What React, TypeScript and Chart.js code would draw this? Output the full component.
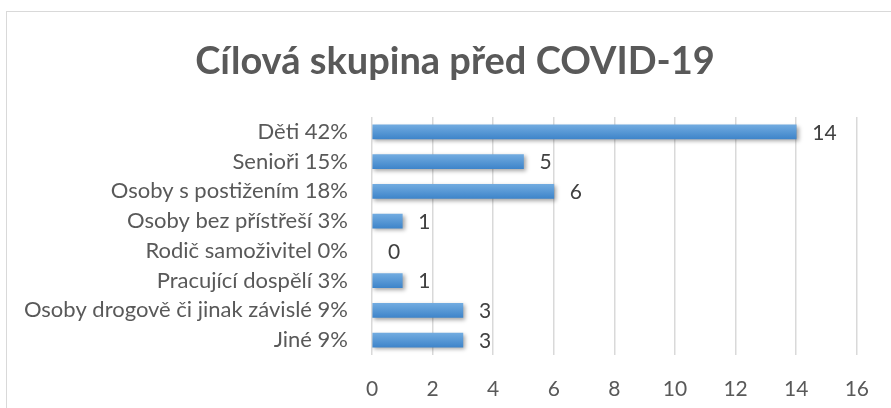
import React, { useEffect, useRef } from "react";
import { Chart, registerables } from "chart.js";

Chart.register(...registerables);

const titleText = "Cílová skupina před COVID-19";
const categories = [
  "Děti 42%",
  "Senioři 15%",
  "Osoby s postižením 18%",
  "Osoby bez přístřeší 3%",
  "Rodič samoživitel 0%",
  "Pracující dospělí 3%",
  "Osoby drogově či jinak závislé 9%",
  "Jiné 9%",
];
const values = [14, 5, 6, 1, 0, 1, 3, 3];
const xMin = 0;
const xMax = 16;
const xStep = 2;

const FONT = "Lato, 'Open Sans', sans-serif";

const shadowPlugin = {
  id: "barShadow",
  beforeDatasetsDraw(chart: any) {
    const ctx = chart.ctx;
    ctx.save();
    ctx.shadowColor = "rgba(0,0,0,0.35)";
    ctx.shadowBlur = 4;
    ctx.shadowOffsetX = 2;
    ctx.shadowOffsetY = 2;
  },
  afterDatasetsDraw(chart: any) {
    chart.ctx.restore();
    const ctx = chart.ctx;
    const meta = chart.getDatasetMeta(0);
    ctx.save();
    ctx.font = `21px ${FONT}`;
    ctx.fillStyle = "#404040";
    ctx.textAlign = "left";
    ctx.textBaseline = "middle";
    meta.data.forEach((el: any, i: number) => {
      ctx.fillText(String(values[i]), el.x + 16, el.y + 1);
    });
    ctx.restore();
  },
  afterDraw(chart: any) {
    const ctx = chart.ctx;
    ctx.save();
    ctx.font = `bold 38px ${FONT}`;
    ctx.fillStyle = "#595959";
    ctx.textAlign = "center";
    ctx.textBaseline = "middle";
    ctx.fillText(titleText, 455, 62);
    ctx.restore();
  },
};

export default function App() {
  const ref = useRef<HTMLCanvasElement | null>(null);
  useEffect(() => {
    if (!ref.current) return;
    const chart = new Chart(ref.current, {
      type: "bar",
      data: {
        labels: categories,
        datasets: [
          {
            data: values,
            barThickness: 14,
            backgroundColor: (c: any) => {
              const ch = c.chart;
              if (c.raw === 0) return "rgba(0,0,0,0)";
              const ys = ch.scales && ch.scales.y;
              if (!ys || c.dataIndex === undefined) return "#5b9bd5";
              const yc = ys.getPixelForValue(c.dataIndex);
              if (!isFinite(yc)) return "#5b9bd5";
              const g = ch.ctx.createLinearGradient(0, yc - 7, 0, yc + 7);
              g.addColorStop(0, "#71abe0");
              g.addColorStop(1, "#3f85ca");
              return g;
            },
            borderWidth: 0,
          },
        ],
      },
      options: {
        indexAxis: "y",
        animation: false,
        responsive: false,
        maintainAspectRatio: false,
        layout: { padding: { left: 0, right: 30, top: 117, bottom: 0 } },
        plugins: {
          legend: { display: false },
          tooltip: { enabled: false },
          title: { display: false },
        },
        scales: {
          x: {
            min: xMin,
            max: xMax,
            ticks: { stepSize: xStep, color: "#595959", font: { family: FONT, size: 21 }, padding: 22 },
            grid: { color: "#d9d9d9", lineWidth: 1.5, drawTicks: false },
            border: { display: false },
            afterFit: (s: any) => {
              s.height = 53;
            },
          },
          y: {
            ticks: { color: "#595959", font: { family: FONT, size: 22 }, padding: 24, autoSkip: false },
            grid: { display: false, drawTicks: false },
            border: { display: false },
            afterFit: (s: any) => {
              s.width = 372;
            },
          },
        },
      },
      plugins: [shadowPlugin],
    });
    return () => chart.destroy();
  }, []);

  return (
    <div
      style={{
        position: "fixed",
        left: 0,
        top: 0,
        width: 891,
        height: 408,
        overflow: "hidden",
        background: "#fff",
      }}
    >
      <div
        style={{
          position: "absolute",
          left: 6,
          top: 11,
          width: 1000,
          height: 1000,
          border: "1.5px solid #d9d9d9",
        }}
      />
      <canvas ref={ref} width={891} height={408} style={{ position: "absolute", left: 0, top: 0 }} />
    </div>
  );
}
